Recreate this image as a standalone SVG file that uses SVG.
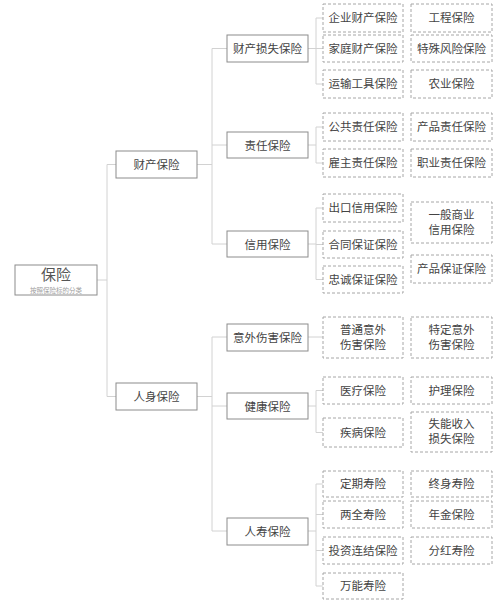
<svg xmlns="http://www.w3.org/2000/svg" width="500" height="614" viewBox="0 0 500 614">
<style>
.bg{fill:#ffffff}
.solid{fill:#ffffff;stroke:#8c8c8c;stroke-width:1}
.dash{fill:#ffffff;stroke:#a6a6a6;stroke-width:1;stroke-dasharray:3 2}
.conn{fill:none;stroke:#d2d2d2;stroke-width:1}
text{font-family:"Noto Sans CJK SC","Noto Sans",sans-serif;fill:#444444;text-anchor:middle;font-size:11.5px}
.title{font-size:15px;fill:#555555}
.sub{font-size:6.5px;fill:#a0a0a0}
</style>
<rect class="bg" x="0" y="0" width="500" height="614"/>
<g id="connectors">
<path class="conn" d="M97 280H107M107 164.5V396.5M107 164.5H116M107 396.5H116"/>
<path class="conn" d="M197 164.5H212M212 48.5V244M212 48.5H227M212 145H227M212 244H227"/>
<path class="conn" d="M197 396.5H212M212 337V531M212 337H227M212 406H227M212 531H227"/>
<path class="conn" d="M308 48.5H316M316 18V84M316 18H323M316 48.5H323M316 84H323"/>
<path class="conn" d="M308 145H316M316 127V163M316 127H323M316 163H323"/>
<path class="conn" d="M308 244H316M316 208V279.5M316 208H323M316 244.5H323M316 279.5H323"/>
<path class="conn" d="M308 337H323"/>
<path class="conn" d="M308 406H316M316 390.5V432.5M316 390.5H323M316 432.5H323"/>
<path class="conn" d="M308 531H316M316 484V586M316 484H323M316 514.5H323M316 550.5H323M316 586H323"/>
</g>
<g id="root"><rect class="solid" x="15" y="265" width="82" height="30"/><text class="title" x="56" y="279.5">保险</text><text class="sub" x="56" y="293">按照保险标的分类</text></g>
<g id="n-caichan"><rect class="solid" x="116" y="151" width="81" height="27"/><text x="156.5" y="169">财产保险</text></g>
<g id="n-renshen"><rect class="solid" x="116" y="383" width="81" height="27"/><text x="156.5" y="401">人身保险</text></g>
<g id="n-sunshi"><rect class="solid" x="227" y="35" width="81" height="27"/><text x="267.5" y="53">财产损失保险</text></g>
<g id="n-zeren"><rect class="solid" x="227" y="132" width="81" height="26"/><text x="267.5" y="149.5">责任保险</text></g>
<g id="n-xinyong"><rect class="solid" x="227" y="231" width="81" height="26"/><text x="267.5" y="248.5">信用保险</text></g>
<g id="n-yiwai"><rect class="solid" x="227" y="324" width="81" height="27"/><text x="267.5" y="342">意外伤害保险</text></g>
<g id="n-jiankang"><rect class="solid" x="227" y="393" width="81" height="26"/><text x="267.5" y="410.5">健康保险</text></g>
<g id="n-renshou"><rect class="solid" x="227" y="518" width="81" height="27"/><text x="267.5" y="536">人寿保险</text></g>
<g id="l-qiye"><rect class="dash" x="323" y="4" width="80" height="28"/><text x="363" y="22">企业财产保险</text></g>
<g id="l-gongcheng"><rect class="dash" x="411" y="4" width="81" height="28"/><text x="451.5" y="22">工程保险</text></g>
<g id="l-jiating"><rect class="dash" x="323" y="35" width="80" height="27"/><text x="363" y="53">家庭财产保险</text></g>
<g id="l-teshu"><rect class="dash" x="411" y="35" width="81" height="27"/><text x="451.5" y="53">特殊风险保险</text></g>
<g id="l-yunshu"><rect class="dash" x="323" y="70" width="80" height="28"/><text x="363" y="88">运输工具保险</text></g>
<g id="l-nongye"><rect class="dash" x="411" y="70" width="81" height="28"/><text x="451.5" y="88">农业保险</text></g>
<g id="l-gonggong"><rect class="dash" x="323" y="113" width="80" height="28"/><text x="363" y="131">公共责任保险</text></g>
<g id="l-chanpinzeren"><rect class="dash" x="411" y="113" width="81" height="28"/><text x="451.5" y="131">产品责任保险</text></g>
<g id="l-guzhu"><rect class="dash" x="323" y="149" width="80" height="28"/><text x="363" y="167">雇主责任保险</text></g>
<g id="l-zhiye"><rect class="dash" x="411" y="149" width="81" height="28"/><text x="451.5" y="167">职业责任保险</text></g>
<g id="l-chukou"><rect class="dash" x="323" y="194" width="80" height="28"/><text x="363" y="212">出口信用保险</text></g>
<g id="l-hetong"><rect class="dash" x="323" y="231" width="80" height="27"/><text x="363" y="248.5">合同保证保险</text></g>
<g id="l-zhongcheng"><rect class="dash" x="323" y="266" width="80" height="27"/><text x="363" y="283.5">忠诚保证保险</text></g>
<g id="l-yiban"><rect class="dash" x="411" y="202" width="81" height="41"/><text x="451.5" y="218.5">一般商业</text><text x="451.5" y="233.5">信用保险</text></g>
<g id="l-chanpinbaozheng"><rect class="dash" x="411" y="255" width="81" height="28"/><text x="451.5" y="273">产品保证保险</text></g>
<g id="l-putong"><rect class="dash" x="323" y="317" width="80" height="41"/><text x="363" y="333.5">普通意外</text><text x="363" y="348.5">伤害保险</text></g>
<g id="l-teding"><rect class="dash" x="411" y="317" width="81" height="41"/><text x="451.5" y="333.5">特定意外</text><text x="451.5" y="348.5">伤害保险</text></g>
<g id="l-yiliao"><rect class="dash" x="323" y="377" width="80" height="27"/><text x="363" y="394.5">医疗保险</text></g>
<g id="l-huli"><rect class="dash" x="411" y="377" width="81" height="27"/><text x="451.5" y="394.5">护理保险</text></g>
<g id="l-jibing"><rect class="dash" x="323" y="418" width="80" height="29"/><text x="363" y="436.5">疾病保险</text></g>
<g id="l-shineng"><rect class="dash" x="411" y="412" width="81" height="40"/><text x="451.5" y="428">失能收入</text><text x="451.5" y="443">损失保险</text></g>
<g id="l-dingqi"><rect class="dash" x="323" y="471" width="80" height="26"/><text x="363" y="488">定期寿险</text></g>
<g id="l-zhongshen"><rect class="dash" x="411" y="471" width="81" height="26"/><text x="451.5" y="488">终身寿险</text></g>
<g id="l-liangquan"><rect class="dash" x="323" y="501" width="80" height="27"/><text x="363" y="518.5">两全寿险</text></g>
<g id="l-nianjin"><rect class="dash" x="411" y="501" width="81" height="27"/><text x="451.5" y="518.5">年金保险</text></g>
<g id="l-touzi"><rect class="dash" x="323" y="537" width="80" height="27"/><text x="363" y="554.5">投资连结保险</text></g>
<g id="l-fenhong"><rect class="dash" x="411" y="537" width="81" height="27"/><text x="451.5" y="554.5">分红寿险</text></g>
<g id="l-wanneng"><rect class="dash" x="323" y="573" width="80" height="26"/><text x="363" y="590">万能寿险</text></g>
</svg>
